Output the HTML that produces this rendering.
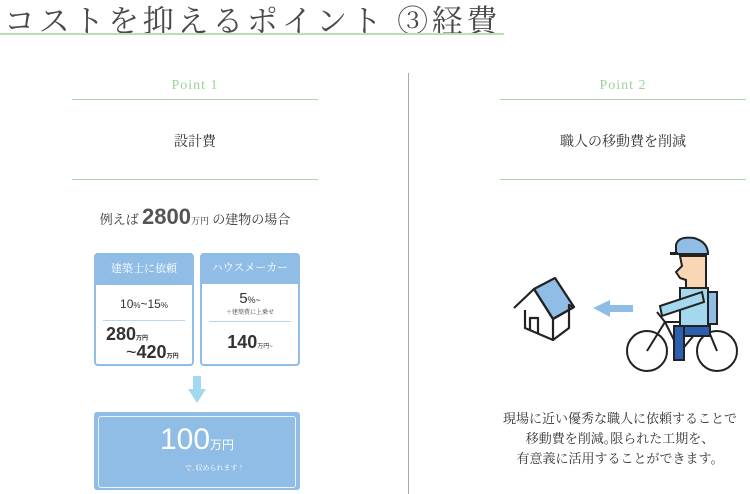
<!DOCTYPE html>
<html><head><meta charset="utf-8"><style>
*{margin:0;padding:0;box-sizing:border-box}
body{width:750px;height:494px;background:#fff;position:relative;overflow:hidden;font-family:"Liberation Serif","Noto Serif CJK JP","Noto Serif CJK SC",serif;color:#333}
.a{position:absolute}
.c{text-align:center}
.sans{font-family:"Liberation Sans","Noto Sans CJK JP",sans-serif}
</style></head><body>
<div class="a" style="left:4px;top:-4px;font-size:31px;letter-spacing:3.7px;color:#4a4a4a;white-space:nowrap">コストを抑えるポイント ③経費</div>
<div class="a" style="left:0;top:33px;width:504px;height:2px;background:#b8dfb5"></div>
<div class="a" style="left:408px;top:73px;width:1px;height:421px;background:#aaa"></div>

<div class="a c" style="left:72px;top:78px;width:246px;font-size:14px;color:#9cd39a;letter-spacing:1px">Point 1</div>
<div class="a" style="left:72px;top:99px;width:246px;height:1px;background:#a8d8a6"></div>
<div class="a c" style="left:72px;top:131px;width:246px;font-size:14px">設計費</div>
<div class="a" style="left:72px;top:179px;width:246px;height:1px;background:#a8d8a6"></div>

<div class="a c" style="left:72px;top:204px;width:246px;font-size:13px;white-space:nowrap">例えば <span class="sans" style="font-size:22px;font-weight:bold;color:#555">2800</span><span style="font-size:9px">万円</span> の建物の場合</div>

<div class="a" style="left:94px;top:253px;width:100px;height:113px;border:2px solid #8fbde6;border-radius:4px"></div>
<div class="a c" style="left:94px;top:253px;width:100px;height:32px;background:#8fbde6;color:#fff;font-size:11px;line-height:32px;border-radius:4px 4px 0 0">建築士に依頼</div>
<div class="a c sans" style="left:94px;top:297px;width:100px;font-size:12px">10<span style="font-size:8px">%</span>~15<span style="font-size:8px">%</span></div>
<div class="a" style="left:103px;top:320px;width:82px;height:1px;background:#b9d6ef"></div>
<div class="a sans" style="left:106px;top:324px;font-size:18px;font-weight:bold;white-space:nowrap">280<span style="font-size:6px">万円</span></div>
<div class="a sans" style="left:126px;top:342px;font-size:18px;font-weight:bold;white-space:nowrap"><span style="font-weight:normal">~</span>420<span style="font-size:6px">万円</span></div>

<div class="a" style="left:200px;top:253px;width:100px;height:113px;border:2px solid #8fbde6;border-radius:4px"></div>
<div class="a c" style="left:200px;top:253px;width:100px;height:31px;background:#8fbde6;color:#fff;font-size:11px;line-height:31px;border-radius:4px 4px 0 0">ハウスメーカー</div>
<div class="a c sans" style="left:200px;top:290px;width:100px;font-size:15px">5<span style="font-size:9px">%~</span></div>
<div class="a c" style="left:200px;top:307px;width:100px;font-size:6px">＋建築費に上乗せ</div>
<div class="a" style="left:209px;top:321px;width:82px;height:1px;background:#b9d6ef"></div>
<div class="a c sans" style="left:200px;top:332px;width:100px;font-size:18px;font-weight:bold">140<span style="font-size:6px;font-weight:normal">万円~</span></div>

<svg class="a" style="left:188px;top:376px" width="18" height="28"><rect x="5" y="0" width="8" height="14" fill="#a4d8ee"/><polygon points="0,13 18,13 9,27" fill="#a4d8ee"/></svg>

<div class="a" style="left:94px;top:412px;width:206px;height:78px;background:#8fbde6;border-radius:3px"></div>
<div class="a" style="left:98px;top:416px;width:198px;height:72px;border:1px solid #e8f2fb;border-radius:3px"></div>
<div class="a c sans" style="left:94px;top:422px;width:206px;color:#fff;font-size:30px;line-height:36px;white-space:nowrap">100<span style="font-size:12px">万円</span></div>
<div class="a" style="left:185px;top:463px;color:#fff;font-size:7px">で､収められます！</div>

<div class="a c" style="left:500px;top:78px;width:246px;font-size:14px;color:#9cd39a;letter-spacing:1px">Point 2</div>
<div class="a" style="left:500px;top:99px;width:246px;height:1px;background:#a8d8a6"></div>
<div class="a c" style="left:500px;top:131px;width:246px;font-size:14px">職人の移動費を削減</div>
<div class="a" style="left:500px;top:179px;width:246px;height:1px;background:#a8d8a6"></div>

<svg class="a" style="left:490px;top:230px" width="260" height="150" viewBox="0 0 260 150">
<g stroke="#222" stroke-width="2.2" fill="none" stroke-linejoin="round">
<polygon points="44,59 65,48 84,77 63,89" fill="#8fbde6"/>
<polyline points="24,78 44,59 63,89 63,110 35,98 35,80"/>
<polyline points="63,89 84,77 79,75 79,98 63,110"/>
<polyline points="40,100 40,88 48,88 48,104"/>
</g>
<polygon points="103,78 120,70 120,75 143,75 143,82 120,82 120,87" fill="#8fbde6"/>
<g stroke="#222" stroke-width="2" fill="none">
<circle cx="157" cy="121" r="20"/><circle cx="227" cy="121" r="20"/>
<polyline points="157,121 175,92 215,92 227,121"/>
<polyline points="175,92 190,122 215,92"/>
<line x1="167" y1="82" x2="175" y2="92"/>
</g>
<path d="M186,15 Q188,6 204,8 Q218,12 218,24 L186,24 Z" fill="#8fbde6" stroke="#222" stroke-width="2"/>
<rect x="180" y="22" width="8" height="3" fill="#222"/>
<path d="M190,26 L216,26 L216,58 L196,58 L196,50 L190,48 L186,42 L192,36 Z" fill="#fbd6b4" stroke="#222" stroke-width="2"/>
<rect x="213" y="62" width="14" height="32" fill="#8fbde6" stroke="#222" stroke-width="2"/>
<rect x="190" y="58" width="28" height="40" fill="#a4d8ee" stroke="#222" stroke-width="2"/>
<polygon points="170,76 212,62 214,72 172,86" fill="#a4d8ee" stroke="#222" stroke-width="2"/>
<rect x="186" y="96" width="34" height="10" fill="#2c5fb0" stroke="#222" stroke-width="2"/>
<rect x="184" y="96" width="10" height="34" fill="#2c5fb0" stroke="#222" stroke-width="2"/>
</svg>

<div class="a c" style="left:490px;top:409px;width:260px;font-size:13px;line-height:20px">現場に近い優秀な職人に依頼することで<br>移動費を削減｡限られた工期を、<br>有意義に活用することができます。</div>
</body></html>
